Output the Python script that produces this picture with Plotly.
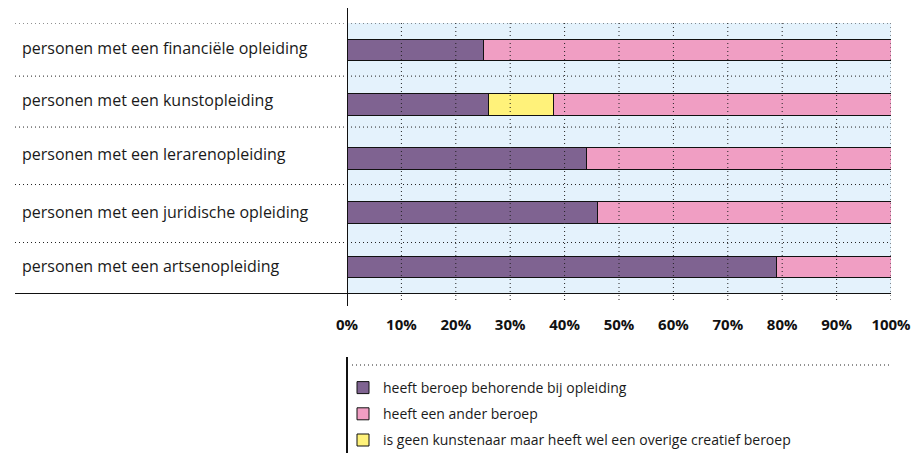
import plotly.graph_objects as go

# Categories (top to bottom) and shares in percent
categories = [
    "personen met een financiële opleiding",
    "personen met een kunstopleiding",
    "personen met een lerarenopleiding",
    "personen met een juridische opleiding",
    "personen met een artsenopleiding",
]
eigen_beroep = [25, 26, 44, 46, 79]
creatief_beroep = [None, 12, None, None, None]
ander_beroep = [75, 62, 56, 54, 21]

series_names = [
    "heeft beroep behorende bij opleiding",
    "heeft een ander beroep",
    "is geen kunstenaar maar heeft wel een overige creatief beroep",
]
tick_values = [0, 10, 20, 30, 40, 50, 60, 70, 80, 90, 100]
tick_labels = [f"{v}%" for v in tick_values]

PURPLE = "#7f6391"
PINK = "#f09ec3"
YELLOW = "#fff27a"
BG = "#e4f2fc"

W, H = 916, 453
L, R, T, B = 347, 25, 23, 159
PW = W - L - R
PH = H - T - B

# label rows: dotted rule positions on the category axis (top edge of each row,
# then the baseline); labels sit halfway between consecutive rules
row_edges = [-0.5, 0.48, 1.42, 2.48, 3.55, 4.5]


def px_x(px):
    return (px - L) / PW


def px_y(py):
    return (H - B - py) / PH


fig = go.Figure()

bar_line = dict(color="#111111", width=1)
fig.add_trace(go.Bar(
    y=categories, x=eigen_beroep, orientation="h", name=series_names[0],
    marker=dict(color=PURPLE, line=bar_line), legendrank=1, legendgroup="a",
))
fig.add_trace(go.Bar(
    y=categories, x=creatief_beroep, orientation="h", name=series_names[2],
    marker=dict(color=YELLOW, line=bar_line), legendrank=3, legendgroup="c",
))
fig.add_trace(go.Bar(
    y=categories, x=ander_beroep, orientation="h", name=series_names[1],
    marker=dict(color=PINK, line=bar_line), legendrank=2, legendgroup="b",
))

shapes = []
dotted = dict(color="#222222", width=1, dash="1px,3px")

# vertical dotted gridlines, running slightly below the baseline
for v in tick_values[1:]:
    shapes.append(dict(type="line", xref="x", yref="paper", x0=v, x1=v,
                       y0=px_y(300), y1=1, line=dotted, layer="above"))

# dotted rules between label rows, extending under the labels
for e in row_edges[:-1]:
    shapes.append(dict(type="line", xref="paper", yref="y",
                       x0=px_x(15), x1=1, y0=e, y1=e,
                       line=dotted, layer="above"))

# solid baseline
shapes.append(dict(type="line", xref="paper", yref="y", x0=px_x(15), x1=1,
                   y0=row_edges[-1], y1=row_edges[-1],
                   line=dict(color="#111111", width=2), layer="above"))
# vertical axis line
shapes.append(dict(type="line", xref="x", yref="paper", x0=0, x1=0,
                   y0=px_y(306), y1=px_y(8),
                   line=dict(color="#111111", width=2), layer="above"))
# legend frame: vertical rule and dotted top line
shapes.append(dict(type="line", xref="paper", yref="paper", x0=0, x1=0,
                   y0=px_y(454), y1=px_y(357),
                   line=dict(color="#111111", width=2)))
shapes.append(dict(type="line", xref="paper", yref="paper", x0=px_x(352), x1=1,
                   y0=px_y(365), y1=px_y(365), line=dotted))

annotations = []
for i, c in enumerate(categories):
    mid = (row_edges[i] + row_edges[i + 1]) / 2
    annotations.append(dict(xref="paper", yref="y", x=px_x(20), y=mid,
                            text=c, showarrow=False, xanchor="left",
                            yanchor="middle", yshift=2,
                            font=dict(family="Open Sans", size=16,
                                      color="#1a1a1a")))

fig.update_layout(
    width=W, height=H,
    margin=dict(l=L, r=R, t=T, b=B, pad=0, autoexpand=False),
    barmode="stack",
    bargap=0.603,
    plot_bgcolor=BG,
    paper_bgcolor="white",
    shapes=shapes,
    annotations=annotations,
    showlegend=True,
    legend=dict(
        x=px_x(343), y=px_y(372), xanchor="left", yanchor="top",
        orientation="v", traceorder="grouped", tracegroupgap=5,
        font=dict(family="Open Sans", size=14, color="#1a1a1a"),
        bgcolor="rgba(0,0,0,0)",
    ),
    xaxis=dict(
        range=[0, 100], tickvals=tick_values, ticktext=tick_labels,
        showgrid=False, zeroline=False, showline=False, automargin=False,
        ticks="outside", ticklen=17, tickcolor="rgba(0,0,0,0)",
        tickfont=dict(family="Open Sans", size=15, color="#111111",
                      weight="bold"),
        fixedrange=True,
    ),
    yaxis=dict(
        range=[len(categories) - 0.5, -0.5], showticklabels=False,
        showgrid=False, zeroline=False, showline=False, ticks="",
        automargin=False, fixedrange=True,
    ),
)

fig.write_html("out.html")
